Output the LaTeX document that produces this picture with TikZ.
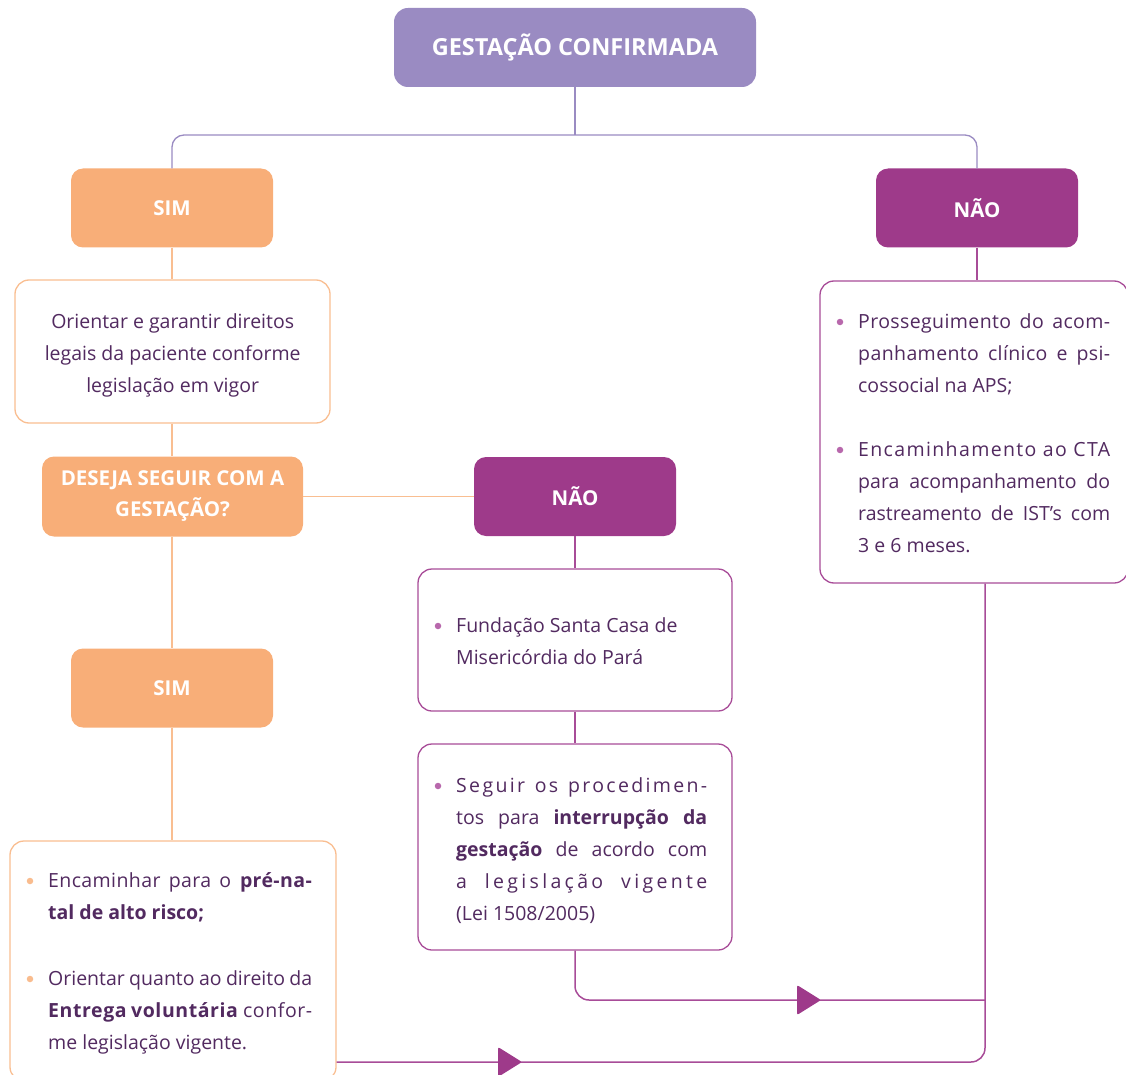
\documentclass[tikz,border=0pt]{standalone}
\usepackage{fontspec}
\setmainfont{Open Sans}
\definecolor{lav}{RGB}{154,139,194}
\definecolor{ora}{RGB}{248,174,120}
\definecolor{oraline}{RGB}{249,190,145}
\definecolor{pur}{RGB}{158,58,138}
\definecolor{purline}{RGB}{168,76,152}
\definecolor{txt}{RGB}{82,42,96}
\definecolor{dotp}{RGB}{184,104,172}
\definecolor{doto}{RGB}{249,188,142}
\newcommand{\jline}[1]{\makebox[\linewidth][s]{#1}}
\newcommand{\lsline}[2]{\makebox[\linewidth][s]{\addfontfeature{LetterSpace=#1}#2}}
\tikzset{
  hdr/.style={rounded corners=12pt, minimum width=202pt, minimum height=79pt, inner sep=0pt,
    font=\bfseries\fontsize{20.5}{31}\selectfont, text=white, align=center},
  tbox/.style={rounded corners=14pt, line width=1.3pt, fill=white, inner sep=0pt},
  btext/.style={anchor=base west, inner sep=0pt, text=txt, font=\fontsize{19.5}{32}\selectfont},
  dot/.style={circle, inner sep=0pt, minimum size=6.5pt},
  lavline/.style={draw=lav, line width=1.3pt},
  oline/.style={draw=oraline, line width=1.5pt},
  pline/.style={draw=purline, line width=1.5pt},
}
\begin{document}
\begin{tikzpicture}[x=1pt,y=-1pt]
\useasboundingbox (0,0) rectangle (1126,1075);
% boxes
\node[hdr, fill=lav, minimum width=362pt, minimum height=79pt, rounded corners=14pt,
  font=\bfseries\fontsize{23.5}{24}\selectfont] (top) at (575,47.5) {GESTAÇÃO CONFIRMADA};
\node[hdr, fill=ora] (sim1) at (172,208) {SIM};
\node[hdr, fill=pur] (nao1) at (977,208) {NÃO};
\node[tbox, draw=oraline, minimum width=315pt, minimum height=143pt] (ori) at (172.5,351.5) {};
\node[hdr, fill=ora, minimum width=261pt, minimum height=80pt] (des) at (172.5,496.5)
  {DESEJA SEGUIR COM A\\GESTAÇÃO?};
\node[hdr, fill=pur] (nao2) at (575,496.5) {NÃO};
\node[tbox, draw=purline, minimum width=314pt, minimum height=142pt] (fund) at (575,640) {};
\node[tbox, draw=purline, minimum width=314pt, minimum height=206pt] (seg) at (575,847) {};
\node[hdr, fill=ora] (sim2) at (172,688) {SIM};
\node[tbox, draw=oraline, minimum width=326pt, minimum height=240pt] (lbox) at (173,961) {};
\node[tbox, draw=purline, minimum width=308pt, minimum height=302pt] (rbox) at (974,432) {};
% connectors
\coordinate (tj) at (575,135);
\draw[lavline] (top.south) -- (tj);
\draw[lavline, rounded corners=12pt] (sim1.north) |- (tj) -| (nao1.north);
\draw[oline] (sim1.south) -- (sim1.south |- ori.north);
\draw[oline] (ori.south -| sim1.south) -- (des.north -| sim1.south);
\draw[oline] (des.east) -- (des.east -| nao2.west);
\draw[pline] (nao2.south) -- (fund.north);
\draw[pline] (fund.south) -- (seg.north);
\draw[oline] (des.south -| sim1.south) -- (sim2.north);
\draw[oline] (sim2.south) -- (sim2.south |- lbox.north);
\draw[pline] (nao1.south) -- (nao1.south |- rbox.north);
\coordinate (rv) at (985,1000);
\coordinate (bl) at (0,1062);
\draw[pline, rounded corners=14pt] (seg.south) |- (rv);
\draw[pline, rounded corners=14pt] (rbox.south -| rv) |- (bl -| lbox.east);
\fill[pur, rounded corners=2pt] (797,985) -- (821,1000) -- (797,1015) -- cycle;
\fill[pur, rounded corners=2pt] (498,1047) -- (522,1062) -- (498,1077) -- cycle;
% texts
\node[btext] (oritext) at (22.5,328.5) {\parbox[t]{300pt}{\centering Orientar e garantir direitos\\legais da paciente conforme\\legislação em vigor}};
\node[dot, fill=dotp] (d1) at (840,322) {};
\node[btext] (rt1) at (858,328.5) {\parbox[t]{252pt}{\lsline{2}{Prosseguimento do acom-}\\\lsline{2}{panhamento clínico e psi-}\\cossocial na APS;}};
\node[dot, fill=dotp] (d2) at (840,450) {};
\node[btext] (rt2) at (858,456.5) {\parbox[t]{252pt}{\lsline{7}{Encaminhamento ao CTA}\\\jline{para acompanhamento do}\\\jline{rastreamento de IST’s com}\\3 e 6 meses.}};
\node[dot, fill=dotp] (d3) at (438,626) {};
\node[btext] (fu) at (456,632.5) {\parbox[t]{270pt}{\raggedright Fundação Santa Casa de\\Misericórdia do Pará}};
\node[dot, fill=dotp] (d4) at (438,786) {};
\node[btext] (sg) at (456,792.5) {\parbox[t]{251pt}{\lsline{12}{Seguir os procedimen-}\\\jline{tos para \textbf{interrupção da}}\\\jline{\textbf{gestação} de acordo com}\\\lsline{17}{a legislação vigente}\\(Lei 1508/2005)}};
\node[dot, fill=doto] (d5) at (30,881) {};
\node[btext] (lt1) at (48,887) {\parbox[t]{264pt}{\lsline{2}{Encaminhar para o \textbf{pré-na-}}\\\textbf{tal de alto risco;}}};
\node[dot, fill=doto] (d6) at (30,979) {};
\node[btext] (lt2) at (48,985) {\parbox[t]{264pt}{\jline{Orientar quanto ao direito da}\\\lsline{3}{\textbf{Entrega voluntária} confor-}\\me legislação vigente.}};
\end{tikzpicture}
\end{document}
